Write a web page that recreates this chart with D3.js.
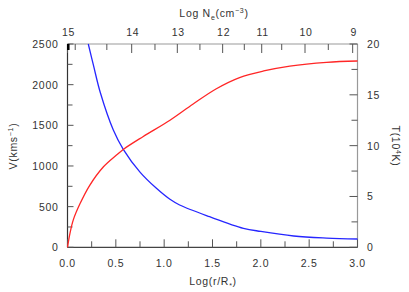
<!DOCTYPE html>
<html><head><meta charset="utf-8">
<script src="https://cdn.jsdelivr.net/npm/d3@7"></script>
<style>
body{margin:0;background:#fff;}
text{font-family:"Liberation Sans",Arial,sans-serif;fill:#333;}
</style></head>
<body><svg id="c" width="409" height="292"></svg>
<script>
// Data
const blueX = [0.215,0.27,0.34,0.474,0.577,0.75,0.92,1.06,1.16,1.47,1.82,2.0,2.34,2.68,3.0];
const blueV = [2500,2230,1900,1442,1205,925,725,590,520,376,234,195,139,114,102];
const redX = [0,0.026,0.06,0.13,0.23,0.37,0.51,0.58,0.78,1.06,1.30,1.54,1.78,2.03,2.30,2.68,3.0];
const redT = [0,1.4,2.7,4.3,6.1,7.9,9.1,9.65,10.88,12.5,14.1,15.6,16.7,17.35,17.83,18.2,18.33];
const xTicks = [0,0.5,1.0,1.5,2.0,2.5,3.0];
const xMinor = [0.25,0.75,1.25,1.75,2.25,2.75];
const vTicks = [0,500,1000,1500,2000,2500];
const vMinor = [250,750,1250,1750,2250];
const tTicks = [0,5,10,15,20];
const tMinor = [2.5,7.5,12.5,17.5];
const neLabels = [15,14,13,12,11,10,9];
const nePos = [0,0.664,1.136,1.605,2.009,2.457,2.95];
const neMinorPos = [0.012,0.08,0.407,0.905,1.37,1.829,2.216,2.698];

const svg = d3.select("#c");
const L=67.5,R=357.5,T=44,B=247.3;
const x = d3.scaleLinear().domain([0,3]).range([L,R]);
const yV = d3.scaleLinear().domain([0,2500]).range([B,T]);
const yT = d3.scaleLinear().domain([0,20]).range([B,T]);
const fs = 10.5, ls = "0.7px";

// frame
svg.append("line").attr("x1",L).attr("x2",R).attr("y1",T).attr("y2",T).attr("stroke","#999").attr("stroke-width",1.2);
svg.append("line").attr("x1",R).attr("x2",R).attr("y1",T).attr("y2",B).attr("stroke","#999").attr("stroke-width",1.2);
svg.append("line").attr("x1",L).attr("x2",R).attr("y1",B).attr("y2",B).attr("stroke","#444").attr("stroke-width",1.2);
svg.append("line").attr("x1",L).attr("x2",L).attr("y1",T).attr("y2",B).attr("stroke","#333").attr("stroke-width",1.2);

const g = svg.append("g");
function tick(x1,y1,x2,y2,c){g.append("line").attr("x1",x1).attr("y1",y1).attr("x2",x2).attr("y2",y2).attr("stroke",c||"#555").attr("stroke-width",1);}
// bottom
xTicks.forEach(v=>{tick(x(v),B,x(v),B-8);
  g.append("text").attr("x",x(v)).attr("y",266.5).attr("text-anchor","middle").attr("font-size",fs).attr("letter-spacing",ls).text(v.toFixed(1));});
xMinor.forEach(v=>tick(x(v),B,x(v),B-6));
// left
vTicks.forEach(v=>{tick(L,yV(v),L+6,yV(v));
  g.append("text").attr("x",58.5).attr("y",yV(v)+4).attr("text-anchor","end").attr("font-size",fs).attr("letter-spacing",ls).text(v);});
vMinor.forEach(v=>tick(L,yV(v),L+5,yV(v)));
// right
tTicks.forEach(v=>{tick(R,yT(v),R-8,yT(v));
  g.append("text").attr("x",367).attr("y",yT(v)+4).attr("text-anchor","start").attr("font-size",fs).attr("letter-spacing",ls).text(v);});
tMinor.forEach(v=>tick(R,yT(v),R-6,yT(v)));
// top
nePos.forEach((p,i)=>{tick(x(p),T,x(p),T+9);
  g.append("text").attr("x",x(p)+1).attr("y",36).attr("text-anchor","middle").attr("font-size",fs).attr("letter-spacing",ls).text(neLabels[i]);});
neMinorPos.forEach(p=>tick(x(p),T,x(p),T+6));
g.append("rect").attr("x",x(0)-0.5).attr("y",T).attr("width",2.5).attr("height",6).attr("fill","#000");

// curves
const lineV = d3.line().x(d=>x(d[0])).y(d=>yV(d[1])).curve(d3.curveCatmullRom.alpha(0.5));
const lineT = d3.line().x(d=>x(d[0])).y(d=>yT(d[1])).curve(d3.curveCatmullRom.alpha(0.5));
svg.append("path").attr("d",lineV(blueX.map((v,i)=>[v,blueV[i]]))).attr("fill","none").attr("stroke","#2626ff").attr("stroke-width",1.3);
svg.append("path").attr("d",lineT(redX.map((v,i)=>[v,redT[i]]))).attr("fill","none").attr("stroke","#ff2626").attr("stroke-width",1.3);

// titles
const bt = svg.append("text").attr("x",213).attr("y",285).attr("text-anchor","middle").attr("font-size",fs).attr("letter-spacing",ls);
bt.append("tspan").text("Log(r/R");
bt.append("tspan").attr("font-size",7).attr("dy",3).text("*");
bt.append("tspan").attr("dy",-3).text(")");
const tt = svg.append("text").attr("x",214).attr("y",17).attr("text-anchor","middle").attr("font-size",fs).attr("letter-spacing",ls);
tt.append("tspan").text("Log N");
tt.append("tspan").attr("font-size",7).attr("dy",3).text("e");
tt.append("tspan").attr("dy",-3).text("(cm");
tt.append("tspan").attr("font-size",7).attr("dy",-4).text("−3");
tt.append("tspan").attr("dy",4).text(")");
const lt = svg.append("text").attr("transform","translate(17,146) rotate(-90)").attr("text-anchor","middle").attr("font-size",fs).attr("letter-spacing",ls);
lt.append("tspan").text("V(kms");
lt.append("tspan").attr("font-size",7).attr("dy",-4).text("−1");
lt.append("tspan").attr("dy",4).text(")");
const rt = svg.append("text").attr("transform","translate(392,146) rotate(90)").attr("text-anchor","middle").attr("font-size",fs).attr("letter-spacing",ls);
rt.append("tspan").text("T(10");
rt.append("tspan").attr("font-size",7).attr("dy",-4).text("4");
rt.append("tspan").attr("dy",4).text("K)");
</script></body></html>
